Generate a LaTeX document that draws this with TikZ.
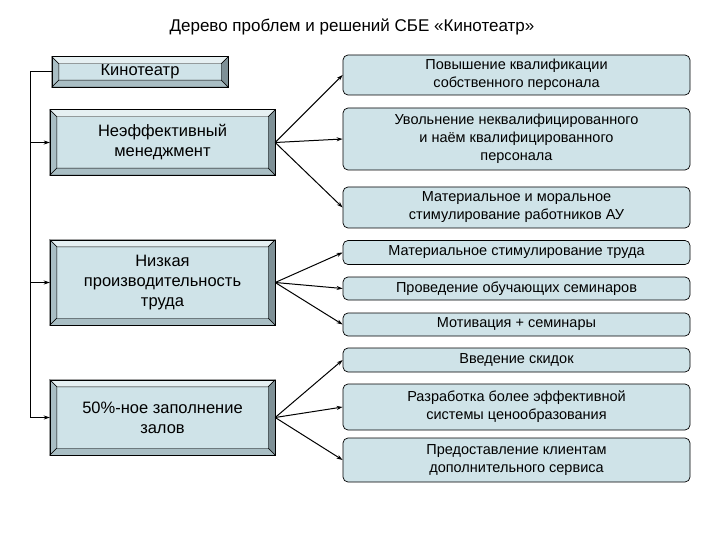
\documentclass[tikz,border=0pt]{standalone}
\usepackage{fontspec}
\setmainfont{Liberation Sans}
\usetikzlibrary{arrows.meta}
\definecolor{boxfill}{HTML}{CFE3E8}
\definecolor{bevlight}{HTML}{E6F0F2}
\definecolor{bevdark}{HTML}{7E9096}
\definecolor{bevmid}{HTML}{A9BEC4}
\newcommand{\bevelit}[1]{%
  \fill[bevlight,draw=black,line width=0.4pt] (#1.north west) -- (#1.north east) -- ([xshift=-7,yshift=-7]#1.north east) -- ([xshift=7,yshift=-7]#1.north west) -- cycle;
  \fill[bevmid,draw=black,line width=0.4pt] (#1.north west) -- ([xshift=7,yshift=-7]#1.north west) -- ([xshift=7,yshift=7]#1.south west) -- (#1.south west) -- cycle;
  \fill[bevdark,draw=black,line width=0.4pt] (#1.north east) -- (#1.south east) -- ([xshift=-7,yshift=7]#1.south east) -- ([xshift=-7,yshift=-7]#1.north east) -- cycle;
  \fill[bevmid,draw=black,line width=0.4pt] (#1.south west) -- (#1.south east) -- ([xshift=-7,yshift=7]#1.south east) -- ([xshift=7,yshift=7]#1.south west) -- cycle;
  \draw[line width=0.6pt] (#1.north west) rectangle (#1.south east);}
\begin{document}
\begin{tikzpicture}[x=1pt,y=-1pt,
  lbox/.style={draw=black,fill=boxfill,minimum width=225pt,align=center,font=\fontsize{16.5}{20}\selectfont,inner sep=0pt},
  rbox/.style={draw=black,fill=boxfill,rounded corners=5pt,minimum width=347pt,align=center,font=\fontsize{14.5}{18}\selectfont,inner sep=0pt,line width=0.7pt},
  arr/.style={-{Stealth[length=6pt,width=4pt]},line width=1pt},
  ln/.style={line width=1pt}]
\useasboundingbox (0,0) rectangle (720,540);
\fill[white] (0,0) rectangle (720,540);
\node[font=\fontsize{17}{20}\selectfont] (title) at (352,27) {Дерево проблем и решений СБЕ «Кинотеатр»};
% left boxes
\node[lbox,minimum width=176pt,minimum height=30pt] (k) at (140,72) {Кинотеатр};
\bevelit{k}
\node[lbox,minimum height=65pt] (m) at (162.5,142.5) {Неэффективный\\менеджмент};
\bevelit{m}
\node[lbox,minimum height=85pt] (p) at (162.5,282.5) {Низкая\\производительность\\труда};
\bevelit{p}
\node[lbox,minimum height=75pt] (z) at (162.5,417.5) {50\%-ное заполнение\\залов};
\bevelit{z}
% right boxes
\node[rbox,minimum height=40pt] (r1) at (516.5,75) {Повышение квалификации\\собственного персонала};
\node[rbox,minimum height=62pt] (r2) at (516.5,139) {Увольнение неквалифицированного\\и наём квалифицированного\\персонала};
\node[rbox,minimum height=41pt] (r3) at (516.5,207.5) {Материальное и моральное\\стимулирование работников АУ};
\node[rbox,minimum height=24pt] (r4) at (516.5,252.5) {Материальное стимулирование труда};
\node[rbox,minimum height=23pt] (r5) at (516.5,288.5) {Проведение обучающих семинаров};
\node[rbox,minimum height=23pt] (r6) at (516.5,324.5) {Мотивация + семинары};
\node[rbox,minimum height=24pt] (r7) at (516.5,360) {Введение скидок};
\node[rbox,minimum height=46pt] (r8) at (516.5,407) {Разработка более эффективной\\системы ценообразования};
\node[rbox,minimum height=44pt] (r9) at (516.5,460) {Предоставление клиентам\\дополнительного сервиса};
% spine
\coordinate (s1) at (30,72);
\coordinate (s4) at (30,417.5);
\draw[ln] (k.west) -- (s1) -- (s4);
\draw[arr] (30,142.5) -- (m.west);
\draw[arr] (30,282.5) -- (p.west);
\draw[arr] (s4) -- (z.west);
% fans
\foreach \r in {r1,r2,r3} \draw[arr] (m.east) -- (\r.west);
\foreach \r in {r4,r5,r6} \draw[arr] (p.east) -- (\r.west);
\foreach \r in {r7,r8,r9} \draw[arr] (z.east) -- (\r.west);
\end{tikzpicture}
\end{document}
